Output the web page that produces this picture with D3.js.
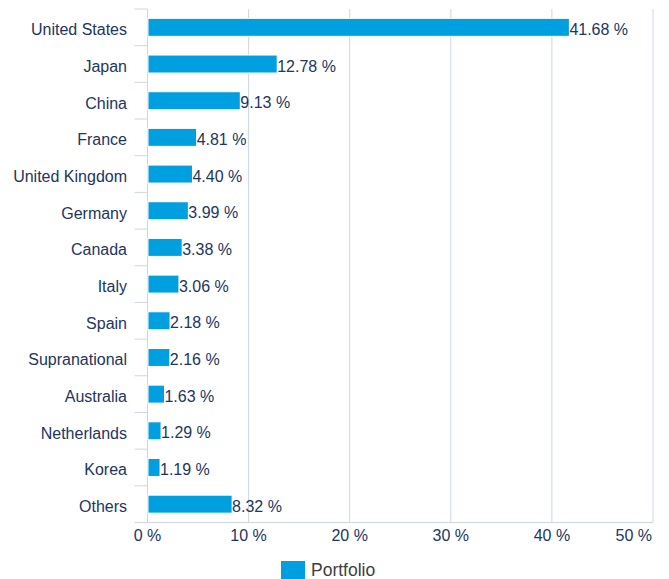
<!DOCTYPE html>
<html lang="en">
<head>
    <meta charset="UTF-8">
    <title>Portfolio by country</title>
    <script src="https://cdnjs.cloudflare.com/ajax/libs/d3/7.8.5/d3.min.js"></script>
    <style>
        body {
            margin: 0;
            background: #fff;
            font-family: "Liberation Sans", Arial, sans-serif;
        }
        svg { display: block; }
    </style>
</head>
<body>
    <div id="wrapper"></div>
    <script>
        // data
        const countries = ['United States', 'Japan', 'China', 'France', 'United Kingdom', 'Germany',
            'Canada', 'Italy', 'Spain', 'Supranational', 'Australia', 'Netherlands', 'Korea', 'Others']
        const weights = [41.68, 12.78, 9.13, 4.81, 4.40, 3.99, 3.38, 3.06, 2.18, 2.16, 1.63, 1.29, 1.19, 8.32]
        const xTicks = [0, 10, 20, 30, 40, 50]
        const seriesName = 'Portfolio'

        const dataset = countries.map((c, i) => ({ country: c, value: weights[i] }))

        const dimensions = {
            width: 669,
            height: 579,
            margin: { top: 9, right: 16, bottom: 56.5, left: 147.5 }
        }
        dimensions.boundedWidth = dimensions.width - dimensions.margin.left - dimensions.margin.right
        dimensions.boundedHeight = dimensions.height - dimensions.margin.top - dimensions.margin.bottom

        const textColor = '#22355f'
        const lineColor = '#ccd6e8'
        const barColor = '#009fe0'

        const svg = d3.select('#wrapper')
            .append('svg')
            .attr('width', dimensions.width)
            .attr('height', dimensions.height)

        const bounds = svg.append('g')
            .attr('transform', `translate(${dimensions.margin.left},${dimensions.margin.top})`)

        const xScale = d3.scaleLinear()
            .domain([0, 50])
            .range([0, dimensions.boundedWidth])

        const yScale = d3.scaleBand()
            .domain(countries)
            .range([0, dimensions.boundedHeight])

        const bw = yScale.bandwidth()

        // grid lines
        bounds.append('g')
            .selectAll('line')
            .data(xTicks.slice(1))
            .join('line')
            .attr('x1', d => xScale(d))
            .attr('x2', d => xScale(d))
            .attr('y1', 0)
            .attr('y2', dimensions.boundedHeight)
            .attr('stroke', lineColor)
            .attr('stroke-width', 1)

        // y axis: line + ticks at band boundaries
        const yAxis = bounds.append('g')
        yAxis.append('line')
            .attr('x1', 0).attr('x2', 0)
            .attr('y1', 0).attr('y2', dimensions.boundedHeight)
            .attr('stroke', lineColor)
        yAxis.selectAll('.tick')
            .data(d3.range(countries.length + 1))
            .join('line')
            .attr('class', 'tick')
            .attr('x1', -13).attr('x2', 0)
            .attr('y1', i => i * bw)
            .attr('y2', i => i * bw)
            .attr('stroke', lineColor)

        yAxis.selectAll('text')
            .data(countries)
            .join('text')
            .attr('x', -20.5)
            .attr('y', d => yScale(d) + bw / 2 + 8)
            .attr('text-anchor', 'end')
            .attr('fill', textColor)
            .style('font-size', '16px')
            .text(d => d)

        // x axis
        const xAxis = bounds.append('g')
            .attr('transform', `translate(0,${dimensions.boundedHeight})`)
        xAxis.append('line')
            .attr('x1', 0).attr('x2', dimensions.boundedWidth)
            .attr('stroke', lineColor)
        xAxis.selectAll('text')
            .data(xTicks)
            .join('text')
            .attr('x', (d, i) => i === xTicks.length - 1 ? dimensions.boundedWidth - 1 : xScale(d))
            .attr('y', 18.5)
            .attr('text-anchor', (d, i) => i === xTicks.length - 1 ? 'end' : 'middle')
            .attr('fill', textColor)
            .style('font-size', '16px')
            .text(d => `${d} %`)

        // bars
        const barHeight = bw * 0.49
        bounds.append('g')
            .selectAll('rect')
            .data(dataset)
            .join('rect')
            .attr('x', xScale(0) + 0.5)
            .attr('y', d => yScale(d.country) + (bw - barHeight) / 2)
            .attr('width', d => xScale(d.value) - xScale(0))
            .attr('height', barHeight)
            .attr('fill', barColor)
            .attr('stroke', '#fff')
            .attr('stroke-width', 1)

        bounds.append('g')
            .selectAll('text')
            .data(dataset)
            .join('text')
            .attr('x', d => xScale(d.value) + 0.5)
            .attr('y', d => yScale(d.country) + bw / 2 + 7.5)
            .attr('fill', textColor)
            .style('font-size', '16px')
            .text(d => `${d.value.toFixed(2)} %`)

        // legend
        const legend = svg.append('g')
            .attr('transform', 'translate(281,561)')
        legend.append('rect')
            .attr('width', 24)
            .attr('height', 18)
            .attr('fill', barColor)
        legend.append('text')
            .attr('x', 30)
            .attr('y', 14.7)
            .attr('fill', '#404040')
            .style('font-size', '17.5px')
            .text(seriesName)
    </script>
</body>
</html>
